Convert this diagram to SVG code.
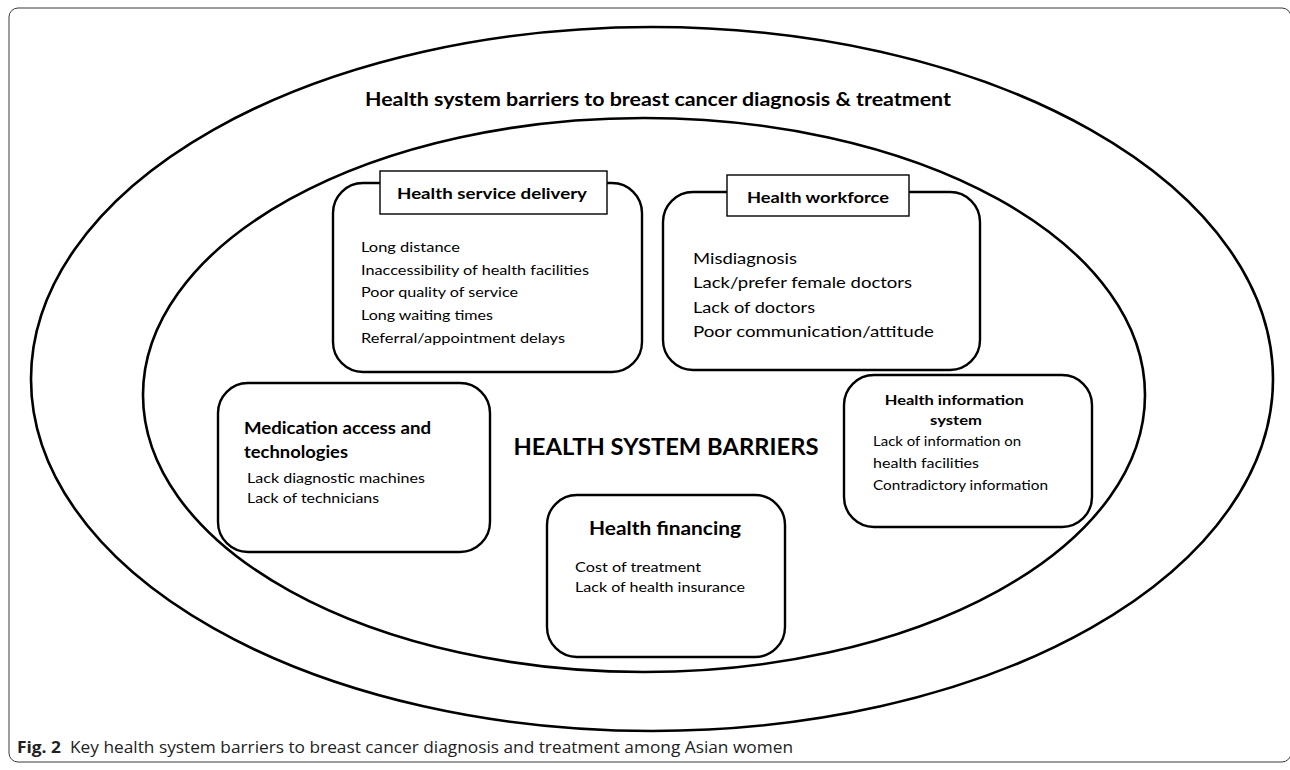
<svg xmlns="http://www.w3.org/2000/svg" width="1290" height="770" viewBox="0 0 1290 770">
  <style>
    .frame { fill: none; stroke: #3a3a3a; stroke-width: 1; }
    .ring { fill: none; stroke: #000; stroke-width: 2.6; }
    .box { fill: #fff; stroke: #000; stroke-width: 2.4; }
    .tag { fill: #fff; stroke: #000; stroke-width: 1.4; }
    .hd { font-family: Lato, "Open Sans", sans-serif; font-weight: bold; fill: #000; }
    .tx { font-family: Lato, "Open Sans", sans-serif; fill: #000; }
    .cap { font-family: "Open Sans", "Liberation Sans", sans-serif; fill: #222; }
  </style>

  <rect x="0" y="0" width="1290" height="770" fill="#fff"/>
  <!-- figure frame -->
  <rect class="frame" x="9" y="8" width="1282" height="754" rx="9"/>

  <!-- nested system rings -->
  <g id="rings">
    <ellipse class="ring" cx="652" cy="379" rx="621" ry="352"/>
    <ellipse class="ring" cx="644" cy="395" rx="501" ry="277"/>
  </g>

  <text class="hd" x="658" y="106" font-size="18" text-anchor="middle" textLength="586" lengthAdjust="spacingAndGlyphs">Health system barriers to breast cancer diagnosis &amp; treatment</text>

  <g id="connectors"></g>

  <g id="service-delivery">
    <rect class="box" x="333" y="183" width="309" height="189" rx="30"/>
    <rect class="tag" x="380" y="171" width="227" height="43"/>
    <text class="hd" x="492" y="199" font-size="16" text-anchor="middle" textLength="190" lengthAdjust="spacingAndGlyphs">Health service delivery</text>
    <text class="tx" font-size="14">
      <tspan x="361" y="252" textLength="99" lengthAdjust="spacingAndGlyphs">Long distance</tspan>
      <tspan x="361" y="275" textLength="228" lengthAdjust="spacingAndGlyphs">Inaccessibility of health facilities</tspan>
      <tspan x="361" y="297" textLength="157" lengthAdjust="spacingAndGlyphs">Poor quality of service</tspan>
      <tspan x="361" y="320" textLength="132" lengthAdjust="spacingAndGlyphs">Long waiting times</tspan>
      <tspan x="361" y="343" textLength="204" lengthAdjust="spacingAndGlyphs">Referral/appointment delays</tspan>
    </text>
  </g>

  <g id="workforce">
    <rect class="box" x="663" y="192" width="317" height="178" rx="30"/>
    <rect class="tag" x="727" y="175" width="182" height="41"/>
    <text class="hd" x="818" y="203" font-size="16" text-anchor="middle" textLength="142" lengthAdjust="spacingAndGlyphs">Health workforce</text>
    <text class="tx" font-size="16">
      <tspan x="693" y="264" textLength="104" lengthAdjust="spacingAndGlyphs">Misdiagnosis</tspan>
      <tspan x="693" y="288" textLength="219" lengthAdjust="spacingAndGlyphs">Lack/prefer female doctors</tspan>
      <tspan x="693" y="313" textLength="122" lengthAdjust="spacingAndGlyphs">Lack of doctors</tspan>
      <tspan x="693" y="337" textLength="241" lengthAdjust="spacingAndGlyphs">Poor communication/attitude</tspan>
    </text>
  </g>

  <g id="medication">
    <rect class="box" x="218" y="383" width="272" height="169" rx="30"/>
    <text class="hd" font-size="17">
      <tspan x="244" y="434" textLength="187" lengthAdjust="spacingAndGlyphs">Medication access and</tspan>
      <tspan x="244" y="458" textLength="104" lengthAdjust="spacingAndGlyphs">technologies</tspan>
    </text>
    <text class="tx" font-size="14">
      <tspan x="247" y="483" textLength="178" lengthAdjust="spacingAndGlyphs">Lack diagnostic machines</tspan>
      <tspan x="247" y="503" textLength="132" lengthAdjust="spacingAndGlyphs">Lack of technicians</tspan>
    </text>
  </g>

  <text class="hd" x="666" y="455" font-size="22" text-anchor="middle" textLength="305" lengthAdjust="spacingAndGlyphs">HEALTH SYSTEM BARRIERS</text>

  <g id="information-system">
    <rect class="box" x="844" y="375" width="248" height="152" rx="30"/>
    <text class="hd" font-size="14" text-anchor="middle">
      <tspan x="956" y="405" textLength="139" lengthAdjust="spacingAndGlyphs">Health information</tspan>
      <tspan x="956" y="425" textLength="52" lengthAdjust="spacingAndGlyphs">system</tspan>
    </text>
    <text class="tx" font-size="14">
      <tspan x="873" y="446" textLength="148" lengthAdjust="spacingAndGlyphs">Lack of information on</tspan>
      <tspan x="873" y="468" textLength="106" lengthAdjust="spacingAndGlyphs">health facilities</tspan>
      <tspan x="873" y="490" textLength="175" lengthAdjust="spacingAndGlyphs">Contradictory information</tspan>
    </text>
  </g>

  <g id="financing">
    <rect class="box" x="547" y="495" width="238" height="162" rx="30"/>
    <text class="hd" x="665" y="535" font-size="19" text-anchor="middle" textLength="152" lengthAdjust="spacingAndGlyphs">Health financing</text>
    <text class="tx" font-size="14">
      <tspan x="575" y="572" textLength="126" lengthAdjust="spacingAndGlyphs">Cost of treatment</tspan>
      <tspan x="575" y="592" textLength="170" lengthAdjust="spacingAndGlyphs">Lack of health insurance</tspan>
    </text>
  </g>

  <!-- caption -->
  <text class="cap" x="17" y="753" font-size="16">
    <tspan font-weight="bold" textLength="44" lengthAdjust="spacingAndGlyphs">Fig. 2</tspan>
    <tspan x="70" textLength="723" lengthAdjust="spacingAndGlyphs">Key health system barriers to breast cancer diagnosis and treatment among Asian women</tspan>
  </text>
</svg>
